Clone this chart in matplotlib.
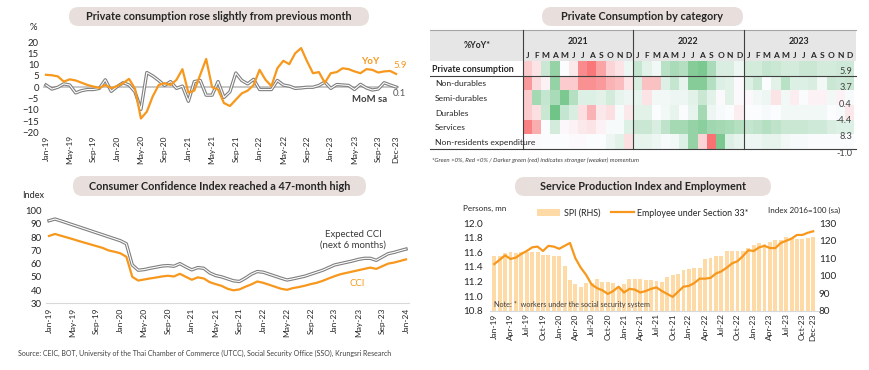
#!/usr/bin/env python3
"""
Thai private consumption dashboard: four small panels on one 870x370 figure.
"""

import numpy as np
import pandas as pd
import matplotlib
matplotlib.use("Agg")
import matplotlib.pyplot as plt
from matplotlib.colors import LinearSegmentedColormap
from matplotlib.patches import FancyBboxPatch, Rectangle

plt.rcParams['font.family'] = ['Lato', 'DejaVu Sans']

W, H = 870, 370
ORANGE = '#F7981D'
GREY = '#7F7F7F'
PILL = '#E8DFDC'
DARK = '#262626'

# ---------------------------------------------------------------- data
# Private consumption index, Jan-19 .. Dec-23
pc_yoy = [5.5, 5.3, 4.8, 2.5, 3.5, 3.0, 2.0, 1.0, 0.3, -0.3, 1.0, -0.4,
          0.5, 1.8, 3.7, -0.6, -13.8, -10.8, -4.0, 1.0, 1.8, 1.0, 3.3, 8.0,
          -2.4, -1.5, 5.5, 12.5, 0.0, -1.0, -7.0, -8.3, -5.5, -2.7, -1.5, 1.0,
          7.7, 3.3, 0.5, 8.4, 11.7, 10.2, 15.0, 17.3, 11.5, 6.2, 6.7, 2.0,
          6.2, 6.7, 8.4, 8.0, 7.0, 6.2, 8.0, 7.7, 6.5, 7.0, 7.2, 5.9]
pc_mom = [1.0, -0.8, 0.0, 1.5, 1.0, -2.5, -1.5, -1.0, -1.0, -0.5, 3.3, -1.8,
          0.3, 2.0, 1.0, -2.0, -9.8, 6.5, 5.0, 3.0, 0.8, 2.5, -0.5, 0.5,
          -6.2, 2.5, 3.0, -3.5, -3.5, 2.5, -4.5, -2.0, 6.3, 3.0, 1.5, 3.5,
          -1.0, -1.0, -1.0, 3.0, 1.0, 0.5, -0.5, -0.3, 0.0, 0.0, 0.8, 2.3,
          -0.5, 1.2, 1.0, 0.8, -1.0, 1.3, -0.3, -1.2, -0.8, 2.0, 1.0, 0.1]

# Consumer confidence, Jan-19 .. Jan-24
cci_expected = [92.4, 93.7, 92.3, 90.8, 89.3, 87.8, 86.3, 84.8, 83.3, 81.8, 80.3, 78.8,
                77.3, 75.0, 59.0, 55.0, 55.5, 56.5, 57.3, 58.2, 58.5, 58.0, 60.0, 57.5,
                55.3, 57.0, 56.5, 53.0, 51.0, 50.0, 48.5, 47.0, 46.5, 49.0, 52.0, 54.0,
                53.5, 52.0, 50.5, 49.0, 47.6, 48.5, 49.5, 50.5, 52.0, 53.5, 55.0, 57.0,
                59.0, 60.0, 61.0, 62.0, 63.2, 64.0, 64.0, 62.5, 65.0, 67.5, 68.5, 69.8,
                71.0]
cci = [80.9, 82.4, 81.1, 79.8, 78.5, 77.1, 75.8, 74.5, 73.2, 71.9, 70.0, 69.0,
       67.8, 65.2, 50.0, 47.2, 48.0, 48.8, 49.5, 50.3, 50.8, 50.3, 52.3, 50.0,
       47.8, 49.6, 48.8, 46.0, 44.5, 43.2, 41.0, 39.8, 40.5, 42.5, 44.3, 46.5,
       45.5, 44.0, 42.5, 41.0, 40.2, 41.5, 42.3, 43.3, 44.5, 45.5, 47.0, 48.8,
       50.5, 52.0, 53.0, 54.0, 55.0, 56.0, 57.0, 56.0, 58.0, 60.0, 60.8, 62.0,
       63.2]

# Service production index (RHS) and employees under Section 33, Jan-19 .. Dec-23
spi = [111.3, 111.3, 112.8, 113.6, 112.8, 113.4, 113.8, 113.6, 113.6, 111.9, 111.7, 111.3,
       111.5, 105.6, 97.6, 95.3, 93.7, 95.7, 96.0, 98.1, 96.2, 96.2, 95.7, 93.7,
       95.1, 97.9, 97.9, 97.9, 97.6, 97.6, 97.2, 96.6, 99.1, 100.2, 101.0, 103.3,
       103.9, 104.6, 104.6, 109.4, 110.0, 111.3, 111.5, 114.4, 114.4, 114.4, 114.4, 115.7,
       117.6, 118.9, 118.2, 119.5, 120.5, 120.5, 122.0, 121.4, 120.8, 120.8, 121.8, 122.2]
employees = [11.44, 11.50, 11.56, 11.51, 11.53, 11.58, 11.62, 11.67, 11.68, 11.62, 11.69, 11.68,
             11.65, 11.69, 11.73, 11.52, 11.39, 11.29, 11.16, 11.11, 11.08, 11.03, 11.07, 11.13,
             11.05, 11.10, 11.09, 11.05, 11.07, 11.10, 11.12, 11.07, 11.03, 10.99, 11.06, 11.13,
             11.14, 11.18, 11.24, 11.24, 11.25, 11.31, 11.34, 11.39, 11.45, 11.48, 11.55, 11.63,
             11.62, 11.67, 11.69, 11.66, 11.66, 11.73, 11.76, 11.79, 11.84, 11.84, 11.87, 11.89]

# Heatmap scores (sign = growth, size = momentum), Jan-21 .. Dec-23
heat_rows = ['Private consumption', 'Non-durables', 'Semi-durables',
             'Durables', 'Services', 'Non-residents expenditure']
heat_latest = ['5.9', '3.7', '0.4', '-4.4', '8.3', '-1.0']
heat_years = ['2021', '2022', '2023']
month_letters = list('JFMAMJJASOND')
hm_private = [-1.0, -0.5, 1.0, 2.0, 0.0, -0.4, -2.3, -2.7, -1.8, -0.8, -0.5, 0.3,
              1.1, 0.5, 0.2, 1.3, 1.6, 1.4, 2.3, 2.5, 1.6, 0.7, 0.7, 0.3,
              0.8, 0.8, 1.1, 1.0, 0.8, 0.8, 1.0, 1.0, 0.8, 0.8, 0.9, 0.9]
hm_nondur = [-2.0, -0.7, -0.2, 2.0, -1.0, -1.0, -2.2, -2.2, -2.0, -1.5, -1.3, -0.5,
             0.7, -1.2, -1.2, 0.6, 1.1, 0.4, 2.3, 2.3, 1.4, 0.6, 0.5, -0.05,
             0.6, 1.0, 0.0, 0.5, 1.3, 0.6, 0.6, 0.7, 0.2, 1.0, 0.9, 1.0]
hm_semidur = [-1.0, 1.7, 1.1, 1.6, 2.5, 1.4, 0.6, 0.6, 0.5, 0.8, 0.4, 0.3,
              0.4, -0.5, 0.2, 0.2, 0.3, 0.3, 0.5, 1.0, 0.5, -0.05, 0.5, -0.05,
              -0.1, 0.2, 0.3, -0.5, 0.2, -0.3, 0.05, -0.2, -0.2, 0.2, -0.2, 0.1]
hm_dur = [-1.0, -0.6, 1.0, 2.7, 1.1, 0.7, -0.6, -1.5, -0.4, -0.6, 0.1, -0.4,
          0.5, 0.5, 0.0, 0.2, 0.4, 0.05, 0.4, 1.7, 0.3, 0.1, 0.0, -0.3,
          0.0, 0.0, 0.1, 0.0, 0.2, 0.2, 0.2, 0.2, 0.2, 0.0, 0.1, -0.4]
hm_services = [-2.5, -1.6, 0.0, 0.8, -0.1, -0.2, -0.4, -0.5, -0.2, 0.1, 0.1, 0.6,
               1.0, 1.0, 0.7, 1.2, 1.7, 1.7, 2.0, 2.2, 1.8, 1.7, 1.6, 1.4,
               1.1, 1.2, 1.4, 1.2, 1.0, 1.0, 1.0, 0.9, 0.9, 0.7, 0.6, 0.6]
hm_nonres = [-0.05, -0.05, 0.0, 0.0, 0.0, -0.05, -0.05, 0.0, 0.0, 0.3, 0.5, -0.6,
             0.4, 0.4, 0.3, 0.1, 0.2, 0.6, 2.0, -0.8, -2.8, 2.5, 0.6, 0.4,
             0.3, 0.3, 0.4, 0.4, 0.2, 0.1, 0.1, 0.05, 0.05, 0.05, 0.05, 0.05]

months_a = pd.date_range('2019-01-01', '2023-12-01', freq='MS')
months_b = pd.date_range('2019-01-01', '2024-01-01', freq='MS')


def px_box(l, t, r, b):
    """pixel box (top-left origin) -> figure fraction rect"""
    return [l / W, 1 - b / H, (r - l) / W, (b - t) / H]


def style_axis(ax):
    for s in ax.spines.values():
        s.set_visible(False)
    ax.patch.set_visible(False)
    ax.tick_params(length=0, labelsize=6.9, colors=DARK)


def double_line(ax, x, y):
    ax.plot(x, y, color=GREY, lw=2.4, solid_joinstyle='round')
    ax.plot(x, y, color='white', lw=0.8, solid_joinstyle='round')


fig = plt.figure(figsize=(W / 100, H / 100), dpi=100)

# ---------------------------------------------------------------- panel 1
ax1 = fig.add_axes(px_box(43, 42, 399, 132.5))
style_axis(ax1)
x1 = np.arange(len(pc_yoy))
ax1.axhline(0, color='#BFBFBF', lw=1.2)
double_line(ax1, x1, pc_mom)
ax1.plot(x1, pc_yoy, color=ORANGE, lw=1.6)
ax1.set_xlim(-0.5, 59.5)
ax1.set_ylim(-20, 20)
ax1.set_yticks(range(-20, 21, 5))
tk1 = list(range(0, 60, 4)) + [59]
ax1.set_xticks(tk1)
ax1.set_xticklabels([months_a[i].strftime('%b-%y') for i in tk1], rotation=90, fontsize=6)
ax1.tick_params(axis='y', pad=3)
ax1.tick_params(axis='x', pad=2)

# ---------------------------------------------------------------- panel 3
ax3 = fig.add_axes(px_box(46, 210.7, 409, 303.3))
style_axis(ax3)
x3 = np.arange(len(cci))
ax3.spines['bottom'].set_visible(True)
ax3.spines['bottom'].set_color('#D9D9D9')
double_line(ax3, x3, cci_expected)
ax3.plot(x3, cci, color=ORANGE, lw=1.6)
ax3.set_xlim(-0.5, 60.5)
ax3.set_ylim(30, 100)
ax3.set_yticks(range(30, 101, 10))
tk3 = list(range(0, 61, 4))
ax3.set_xticks(tk3)
ax3.set_xticklabels([months_b[i].strftime('%b-%y') for i in tk3], rotation=90, fontsize=6)
ax3.tick_params(axis='y', pad=3)
ax3.tick_params(axis='x', pad=3)

# ---------------------------------------------------------------- panel 4
ax4 = fig.add_axes(px_box(490, 223.3, 817.5, 310.7))
ax4r = ax4.twinx()
style_axis(ax4)
style_axis(ax4r)
x4 = np.arange(len(spi))
bars = ax4r.bar(x4, spi, width=0.72, color='#FDDAA6', zorder=1)
line, = ax4.plot(x4, employees, color=ORANGE, lw=1.6)
ax4.set_zorder(ax4r.get_zorder() + 1)
ax4.spines['bottom'].set_visible(True)
ax4.spines['bottom'].set_color('#D9D9D9')
ax4.set_xlim(-0.8, 59.8)
ax4.set_ylim(10.8, 12.0)
ax4.set_yticks(np.arange(10.8, 12.01, 0.2))
ax4.set_yticklabels([f'{v:.1f}' for v in np.arange(10.8, 12.01, 0.2)])
ax4r.set_ylim(80, 130)
ax4r.set_yticks(range(80, 131, 10))
tk4 = list(range(0, 58, 3)) + [59]
ax4.set_xticks(tk4)
ax4.set_xticklabels([months_a[i].strftime('%b-%y') for i in tk4], rotation=90, fontsize=6)
ax4.tick_params(axis='y', pad=5, labelsize=7.2)
ax4r.tick_params(axis='y', pad=1, labelsize=7.2)
ax4.tick_params(axis='x', pad=2)
fig.legend([bars, line], ['SPI (RHS)', 'Employee under Section 33*'], ncol=2,
           loc='center', bbox_to_anchor=(643 / W, 1 - 213 / H), frameon=False,
           fontsize=6.4, handlelength=2.6, handleheight=0.9, columnspacing=1.2,
           handletextpad=0.4, labelcolor=DARK)

# ---------------------------------------------------------------- panel 2 heatmap
hm = np.array([hm_private, hm_nondur, hm_semidur, hm_dur, hm_services, hm_nonres])
cmap = LinearSegmentedColormap.from_list('rwg', ['#F8696B', '#FCFCFF', '#63BE7B'])
TL, TR, CL, CR, CT, CB = 430, 856, 522.7, 854.2, 61, 149
axh = fig.add_axes(px_box(CL, CT, CR, CB))
axh.pcolormesh(hm, cmap=cmap, vmin=-3, vmax=3)
axh.set_xlim(0, hm.shape[1])
axh.set_ylim(hm.shape[0], 0)
axh.axis('off')

# ---------------------------------------------------------------- overlay (pixel coords)
ov = fig.add_axes([0, 0, 1, 1])
ov.set_xlim(0, W)
ov.set_ylim(H, 0)
ov.axis('off')
ov.set_zorder(10)

titles = [('Private consumption rose slightly from previous month', 69, 7, 369, 26),
          ('Private Consumption by category', 542, 7, 743, 26),
          ('Consumer Confidence Index reached a 47-month high', 73, 176, 366, 196),
          ('Service Production Index and Employment', 515, 177, 771, 196)]
for txt, l, t, r, b in titles:
    ov.add_patch(FancyBboxPatch((l, t), r - l, b - t, boxstyle='round,pad=0,rounding_size=9.5',
                                fc=PILL, ec='none'))
    ov.text((l + r) / 2, (t + b) / 2 + 0.5, txt, ha='center', va='center',
            fontsize=7.8, fontweight='bold', color=DARK)

# panel 1 labels
ov.text(33, 28, '%', ha='center', va='center', fontsize=6.8, color=DARK)
ov.text(370, 62, 'YoY', ha='center', va='center', fontsize=7, fontweight='bold', color=ORANGE)
ov.text(400, 65, '5.9', ha='center', va='center', fontsize=7, color=ORANGE)
ov.text(370, 100, 'MoM sa', ha='center', va='center', fontsize=6.9, fontweight='bold', color='#404040')
ov.text(399, 94, '0.1', ha='center', va='center', fontsize=6.9, color='#595959')

# panel 3 labels
ov.text(33, 195, 'Index', ha='center', va='center', fontsize=6.6, color=DARK)
ov.text(353, 240, 'Expected CCI\n(next 6 months)', ha='center', va='center',
        fontsize=6.9, color='#3A3A3A', linespacing=1.3)
ov.text(357, 284, 'CCI', ha='center', va='center', fontsize=6.9, color=ORANGE)

# panel 4 labels
ov.text(485, 208, 'Persons, mn', ha='center', va='center', fontsize=5.8, color=DARK)
ov.text(804, 210, 'Index 2016=100 (sa)', ha='center', va='center', fontsize=5.8, color=DARK)
ov.text(494, 304, 'Note: *  workers under the social security system', ha='left',
        va='center', fontsize=5.2, color='#404040')

# table header and rules
colw = (CR - CL) / hm.shape[1]
rowh = (CB - CT) / hm.shape[0]
ov.add_patch(Rectangle((TL, 30), TR - TL, CT - 30, fc='#E7E6E6', ec='none'))
ov.plot([TL, TR], [30, 30], color='#A6A6A6', lw=0.8)
ov.plot([TL, TR], [CT + rowh, CT + rowh], color='#404040', lw=0.8)
ov.plot([TL, TR], [CB, CB], color='#404040', lw=0.8)
for k, yr in enumerate(heat_years):
    xv = CL + k * 12 * colw
    ov.plot([xv, xv], [30, CB], color='#404040', lw=0.8)
    ov.text(xv + 6 * colw, 42, yr, ha='center', va='center', fontsize=6.4,
            fontweight='bold', color=DARK)
    for m, letter in enumerate(month_letters):
        ov.text(xv + (m + 0.5) * colw, 55.5, letter, ha='center', va='center',
                fontsize=6, fontweight='bold', color=DARK)
ov.text(476.7, 46, '%YoY*', ha='center', va='center', fontsize=6.2, fontweight='bold', color=DARK)
for i, name in enumerate(heat_rows):
    yc = CT + (i + 0.5) * rowh + 0.8
    if i == 0:
        ov.text(432, yc, name, ha='left', va='center', fontsize=6.4, fontweight='bold', color=DARK)
    else:
        ov.text(435, yc, name, ha='left', va='center', fontsize=6.1, color=DARK)
    ov.text(852, 71.7 + i * 16.3, heat_latest[i], ha='right', va='center', fontsize=6.6, color='#404040')
ov.text(432, 160, '*Green >0%, Red <0% / Darker green (red) indicates stronger (weaker) momentum',
        ha='left', va='center', fontsize=4.4, style='italic', color='#404040')

# source
ov.text(18, 353, 'Source: CEIC, BOT, University of the Thai Chamber of Commerce (UTCC), '
        'Social Security Office (SSO), Krungsri Research',
        ha='left', va='center', fontsize=5.0, color='#404040')

fig.savefig('out.png', dpi=100)
